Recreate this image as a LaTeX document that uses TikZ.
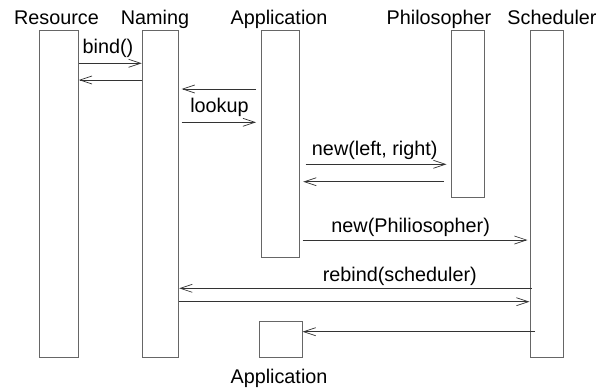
\documentclass[tikz,border=0pt]{standalone}
\usepackage{fontspec}
\setmainfont{Liberation Sans}
\usetikzlibrary{arrows.meta}
\begin{document}
\begin{tikzpicture}[x=1pt,y=-1pt,
  lifeline/.style={draw=black!60, line width=0.9pt, fill=white, inner sep=0pt, anchor=north west},
  msg/.style={draw=black!80, line width=0.8pt, -{Straight Barb[length=12pt,width=8pt,line width=0.7pt]}},
  lbl/.style={font=\fontsize{19.8}{23}\selectfont, anchor=base, inner sep=0pt}]
\useasboundingbox (0,0) rectangle (609,391);

% activation bars
\node[lifeline, minimum width=39pt,   minimum height=327pt] (res) at (39,30) {};
\node[lifeline, minimum width=36.6pt, minimum height=327pt] (nam) at (141.7,30) {};
\node[lifeline, minimum width=38.3pt, minimum height=226.7pt] (app) at (261,30) {};
\node[lifeline, minimum width=33.3pt, minimum height=167pt] (phi) at (451,30) {};
\node[lifeline, minimum width=33.3pt, minimum height=327.3pt] (sch) at (530,30) {};
\node[lifeline, minimum width=42.4pt, minimum height=36.6pt] (app2) at (259.3,320.7) {};

% object names
\node[lbl] (tres) at (56.5,24.5) {Resource};
\node[lbl] (tnam) at (155,24.5) {Naming};
\node[lbl] (tapp) at (279,24.5) {Application};
\node[lbl] (tphi) at (439,24.5) {Philosopher};
\node[lbl] (tsch) at (552,24.5) {Scheduler};
\node[lbl] (tapp2) at (279,383) {Application};

% messages
\draw[msg] (res.east |- 0,63.3) -- (nam.west |- 0,63.3);
\node[lbl] (lbind) at (108,53) {bind()};
\draw[msg] (nam.west |- 0,80) -- (res.east |- 0,80);

\draw[msg] ([xshift=-5pt]app.west |- 0,89) -- ([xshift=2.5pt]nam.east |- 0,89);
\draw[msg] ([xshift=2.5pt]nam.east |- 0,122.3) -- ([xshift=-5pt]app.west |- 0,122.3);
\node[lbl] (llook) at (219.5,112) {lookup};

\draw[msg] ([xshift=5.5pt]app.east |- 0,164.3) -- ([xshift=-4.5pt]phi.west |- 0,164.3);
\node[lbl] (lnew1) at (374.7,155.5) {new(left, right)};
\draw[msg] ([xshift=-7pt]phi.west |- 0,181.7) -- ([xshift=3pt]app.east |- 0,181.7);

\draw[msg] ([xshift=2.5pt]app.east |- 0,240) -- ([xshift=-2.5pt]sch.west |- 0,240);
\node[lbl] (lnew2) at (410.7,232.5) {new(Philiosopher)};

\draw[msg] ([xshift=1.5pt]sch.west |- 0,288.3) -- (nam.east |- 0,288.3);
\node[lbl] (lreb) at (399.8,281.5) {rebind(scheduler)};
\draw[msg] (nam.east |- 0,301.7) -- ([xshift=-0.5pt]sch.west |- 0,301.7);

\draw[msg] ([xshift=5pt]sch.west |- 0,331.7) -- (app2.east |- 0,331.7);
\end{tikzpicture}
\end{document}
